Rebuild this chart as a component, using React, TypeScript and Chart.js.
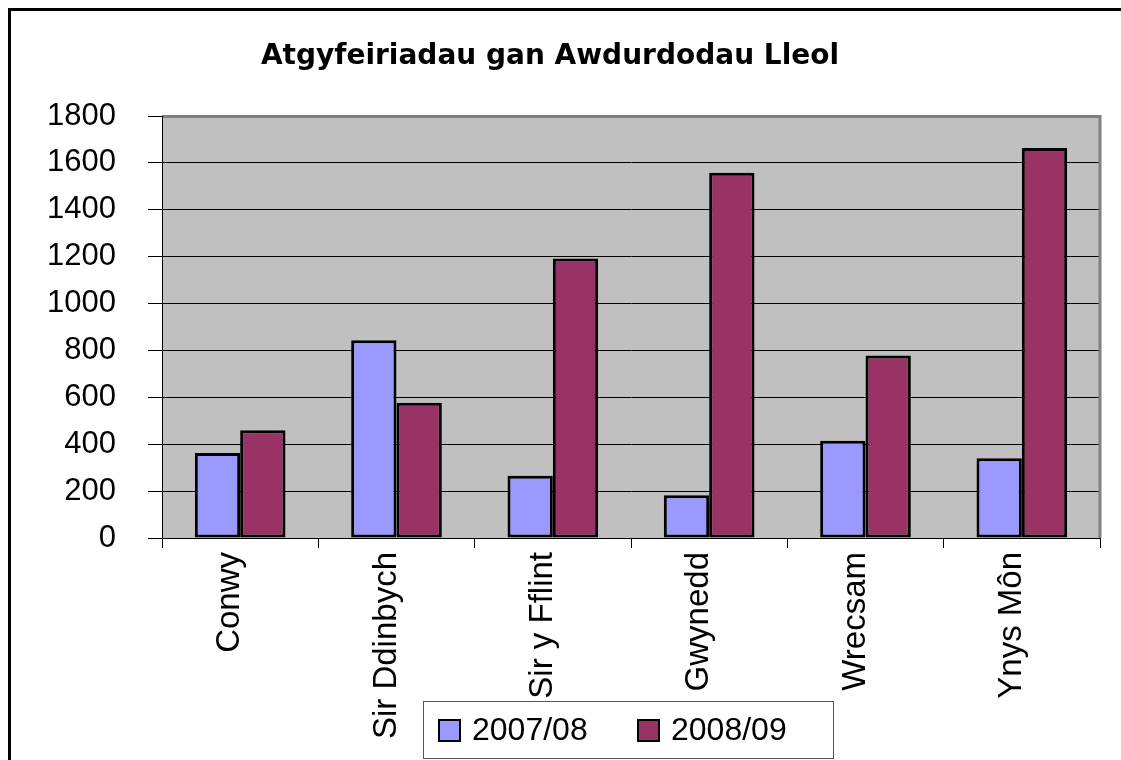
import React, { useEffect, useRef } from 'react';
import { Chart, registerables } from 'chart.js';

Chart.register(...registerables);

const categories = ['Conwy', 'Sir Ddinbych', 'Sir y Fflint', 'Gwynedd', 'Wrecsam', 'Ynys Môn'];
const series2007 = [363, 843, 266, 182, 415, 340];
const series2008 = [460, 577, 1192, 1558, 778, 1663];
const seriesLabels = ['2007/08', '2008/09'];
const chartTitle = 'Atgyfeiriadau gan Awdurdodau Lleol';
const yMin = 0;
const yMax = 1800;
const yStep = 200;

const FONT = "'Liberation Sans', Arial, sans-serif";

const framePlugin = {
  id: 'frame',
  beforeDraw(chart: any) {
    const { ctx, chartArea: a, width, height } = chart;
    ctx.save();
    ctx.fillStyle = '#ffffff';
    ctx.fillRect(0, 0, width, height);
    ctx.fillStyle = '#C0C0C0';
    ctx.fillRect(a.left, a.top, a.right - a.left, a.bottom - a.top);
    ctx.restore();
  },
  afterDatasetsDraw(chart: any) {
    const { ctx, chartArea: a } = chart;
    ctx.save();
    ctx.strokeStyle = '#808080';
    ctx.lineWidth = 3;
    ctx.beginPath();
    ctx.moveTo(a.left, a.top + 0.5);
    ctx.lineTo(a.right, a.top + 0.5);
    ctx.lineTo(a.right, a.bottom);
    ctx.stroke();
    ctx.strokeStyle = '#000';
    ctx.lineWidth = 1;
    ctx.beginPath();
    ctx.moveTo(a.left + 0.5, a.top);
    ctx.lineTo(a.left + 0.5, a.bottom);
    ctx.stroke();
    ctx.restore();
  },
  afterDraw(chart: any) {
    const { ctx } = chart;
    ctx.save();
    // outer border
    ctx.strokeStyle = '#000';
    ctx.lineWidth = 3;
    ctx.strokeRect(9.5, 9.5, 1200, 900);
    // legend
    const bx = 423.5, by = 701.5, bw = 410, bh = 57;
    ctx.fillStyle = '#fff';
    ctx.fillRect(bx, by, bw, bh);
    ctx.strokeStyle = '#555';
    ctx.lineWidth = 1;
    ctx.strokeRect(bx, by, bw, bh);
    ctx.font = `32px ${FONT}`;
    ctx.textBaseline = 'middle';
    ctx.textAlign = 'left';
    chart.data.datasets.forEach((d: any, i: number) => {
      const x0 = 439 + i * 199;
      const y0 = 720;
      ctx.fillStyle = d.backgroundColor;
      ctx.fillRect(x0, y0, 21, 21);
      ctx.strokeStyle = '#000';
      ctx.lineWidth = 2;
      ctx.strokeRect(x0, y0, 21, 21);
      ctx.fillStyle = '#000';
      ctx.fillText(d.label, x0 + 33, y0 + 11);
    });
    ctx.restore();
  },
};

export default function App() {
  const ref = useRef<HTMLCanvasElement | null>(null);

  useEffect(() => {
    if (!ref.current) return;
    const chart = new Chart(ref.current, {
      type: 'bar',
      data: {
        labels: categories,
        datasets: [
          {
            label: seriesLabels[0],
            data: series2007,
            backgroundColor: '#9999FF',
            borderColor: '#000000',
            borderWidth: 3,
            borderSkipped: false,
          },
          {
            label: seriesLabels[1],
            data: series2008,
            backgroundColor: '#993366',
            borderColor: '#000000',
            borderWidth: 3,
            borderSkipped: false,
          },
        ],
      },
      options: {
        responsive: false,
        animation: false,
        maintainAspectRatio: false,
        layout: { padding: { left: 0, right: 21, top: 0, bottom: 0 } },
        datasets: { bar: { categoryPercentage: 0.58, barPercentage: 1.0 } },
        plugins: {
          legend: { display: false },
          tooltip: { enabled: false },
          title: {
            display: true,
            text: chartTitle,
            color: '#000',
            font: { family: "'DejaVu Sans', sans-serif", size: 28, weight: 'bold', lineHeight: 1.2 },
            padding: { top: 40, bottom: 42.4 },
          },
        },
        scales: {
          x: {
            grid: {
              display: true,
              drawOnChartArea: false,
              drawTicks: true,
              tickLength: 10,
              offset: true,
              color: '#000',
            },
            border: { display: true, color: '#000', width: 1 },
            ticks: {
              minRotation: 90,
              maxRotation: 90,
              padding: 4,
              color: '#000',
              labelOffset: -10,
              font: { family: FONT, size: 33 },
            },
            afterFit(scale: any) {
              scale.height = 222;
            },
          },
          y: {
            min: yMin,
            max: yMax,
            grid: {
              color: '#000',
              lineWidth: 1,
              drawTicks: true,
              tickLength: 14,
            },
            border: { display: true, color: '#000', width: 1 },
            ticks: {
              stepSize: yStep,
              padding: 32,
              color: '#000',
              font: { family: FONT, size: 31 },
              callback: (v: any) => String(v),
            },
            afterFit(scale: any) {
              scale.width = 162;
            },
          },
        },
      },
      plugins: [framePlugin],
    });
    return () => chart.destroy();
  }, []);

  return (
    <div style={{ position: 'absolute', left: 0, top: 0, width: 1121, height: 760 }}>
      <canvas ref={ref} width={1121} height={760} style={{ display: 'block', width: 1121, height: 760 }} />
    </div>
  );
}
